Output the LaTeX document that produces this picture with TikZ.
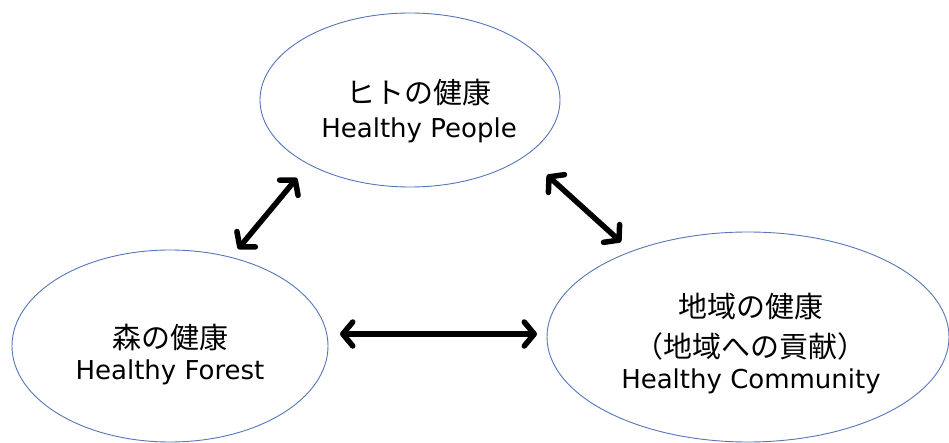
\documentclass[tikz,border=0pt]{standalone}
\usepackage{fontspec}
\setmainfont{DejaVu Sans}
\newfontfamily\jp{Noto Sans CJK JP}
\usetikzlibrary{shapes.geometric,arrows.meta}
\definecolor{ringblue}{RGB}{84,118,184}
\tikzset{
  ring/.style={draw=ringblue, line width=0.9pt, ellipse, inner sep=0pt},
  jptext/.style={anchor=base, font=\jp\fontsize{29}{34}\selectfont, inner sep=0pt},
  entext/.style={anchor=base, font=\fontsize{26}{31}\selectfont, inner sep=0pt},
  link/.style={line width=5.5pt, {Straight Barb[length=10pt,width=24pt,round]}-{Straight Barb[length=10pt,width=24pt,round]}}
}
\begin{document}
\begin{tikzpicture}[x=1pt,y=-1pt]
\useasboundingbox (0,0) rectangle (949,443);
% ellipses
\node[ring, minimum width=300pt, minimum height=174pt] (people) at (410,100) {};
\node[ring, minimum width=316pt, minimum height=192pt] (forest) at (170,346) {};
\node[ring, minimum width=402pt, minimum height=210pt] (community) at (748,337) {};
% texts
\node[jptext] (p1) at (419,103.5) {ヒトの健康};
\node[entext] (p2) at (419,137.5) {Healthy People};
\node[jptext] (f1) at (170,348) {森の健康};
\node[entext] (f2) at (170,379.5) {Healthy Forest};
\node[jptext] (c1) at (751,317) {地域の健康};
\node[jptext] (c2) at (750,357) {（地域への貢献）};
\node[entext] (c3) at (751,388.5) {Healthy Community};
% arrow ends
\coordinate (a1s) at (238,249);
\coordinate (a1e) at (297,178);
\coordinate (a2s) at (547,175);
\coordinate (a2e) at (621,242);
\coordinate (a3s) at (340,334);
\coordinate (a3e) at (537,334);
\draw[link] (a1s) -- (a1e);
\draw[link] (a2s) -- (a2e);
\draw[link] (a3s) -- (a3e);
\end{tikzpicture}
\end{document}
